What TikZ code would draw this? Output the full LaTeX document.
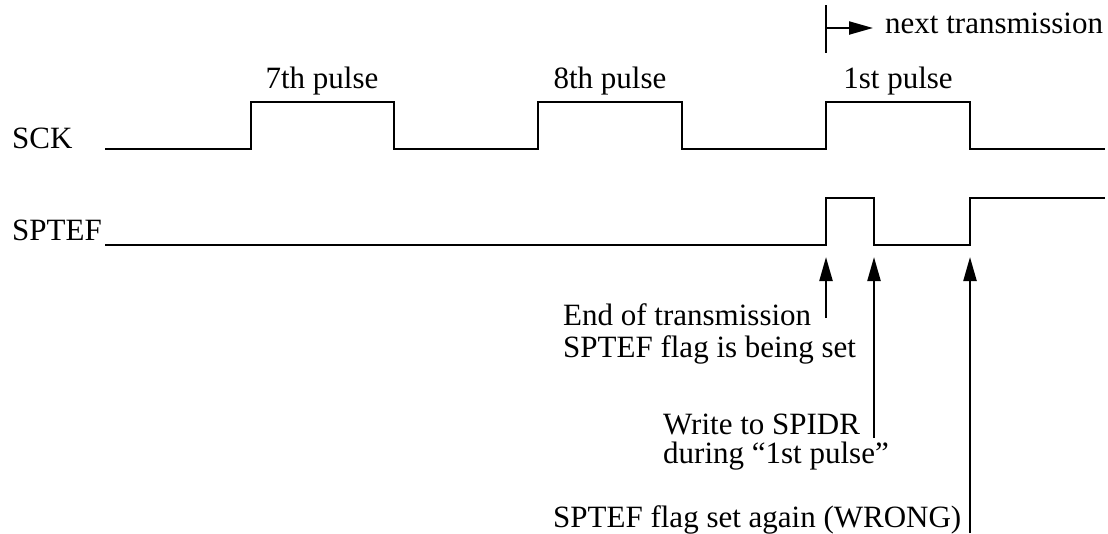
\documentclass[tikz,border=0pt]{standalone}
\usepackage{fontspec}
\setmainfont{Liberation Serif}
\usetikzlibrary{arrows.meta}
\begin{document}
\begin{tikzpicture}[x=1pt,y=-1pt,
  sig/.style={line width=2.2pt,line join=miter},
  marker/.style={line width=2.2pt,-{Triangle[length=24pt,width=13pt]}},
  lbl/.style={inner sep=0pt,font=\fontsize{31}{30}\selectfont},
  note/.style={lbl,align=left,anchor=base west}]
\useasboundingbox (0,0) rectangle (1108,533);

% signal names
\node[lbl,anchor=base west] (sck) at (12,148) {SCK};
\node[lbl,anchor=base west] (spt) at (12,240) {SPTEF};

% SCK waveform
\draw[sig] (105,149) -- (251,149) -- (251,102) -- (394,102) -- (394,149)
  -- (538,149) -- (538,102) -- (682,102) -- (682,149)
  -- (826,149) -- (826,102) -- (970,102) -- (970,149) -- (1105,149);

% SPTEF waveform
\coordinate (e1) at (826,257);
\coordinate (e2) at (874,257);
\coordinate (e3) at (970,257);
\draw[sig] (105,245) -- (826,245) -- (826,198) -- (874,198) -- (874,245)
  -- (970,245) -- (970,198) -- (1105,198);

% pulse labels
\node[lbl,anchor=base] (p7) at (322,88) {7th pulse};
\node[lbl,anchor=base] (p8) at (610,88) {8th pulse};
\node[lbl,anchor=base] (p1) at (898,88) {1st pulse};

% next transmission marker
\coordinate (nt0) at (826,28);
\coordinate (ntb) at (826,5);
\coordinate (ntt) at (826,53);
\draw[line width=2.2pt] (ntb) -- (ntt);
\node[lbl,anchor=base west] (nt) at (885,33) {next transmission};
\draw[marker] (nt0) -- (873,28);

% annotations (the base anchor sits on the last line)
\node[note,font=\fontsize{31}{32}\selectfont] (a1) at (563,357) {End of transmission\\SPTEF flag is being set};
\node[note,font=\fontsize{31}{29}\selectfont] (a2) at (663,463) {Write to SPIDR\\during “1st pulse”};
\node[note] (a3) at (553,527) {SPTEF flag set again (WRONG)};

\coordinate (s1) at (826,318);
\coordinate (s2) at (874,438);
\coordinate (s3) at (970,533);
\draw[marker] (s1) -- (e1);
\draw[marker] (s2) -- (e2);
\draw[marker] (s3) -- (e3);
\end{tikzpicture}
\end{document}
